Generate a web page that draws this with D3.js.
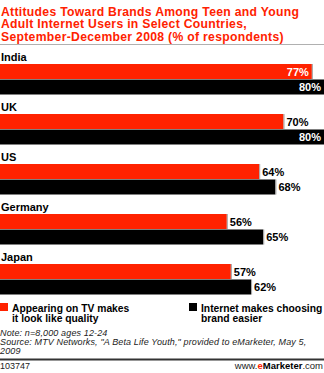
<!DOCTYPE html>
<html><head><meta charset="utf-8">
<script src="https://cdn.jsdelivr.net/npm/d3@7"></script>
<style>
body{margin:0;background:#fff;}
svg{display:block;}
</style></head>
<body><svg id="c" width="324" height="373"></svg>
<script>
const titleLines = ["Attitudes Toward Brands Among Teen and Young","Adult Internet Users in Select Countries,","September-December 2008 (% of respondents)"];
const countries = ["India","UK","US","Germany","Japan"];
const seriesNames = ["Appearing on TV makes it look like quality","Internet makes choosing brand easier"];
const tvQuality = [77,70,64,56,57];
const internetEasier = [80,80,68,65,62];
const noteLines = ["Note: n=8,000 ages 12-24","Source: MTV Networks, \"A Beta Life Youth,\" provided to eMarketer, May 5,","2009"];
const footerId = "103747";

const W=324;
const svg=d3.select("#c");
const font="'Liberation Sans', Arial, sans-serif";
const red="#ff2200", blk="#000";

// title
svg.append("g").selectAll("text").data(titleLines).join("text")
  .attr("x",1).attr("y",(d,i)=>15.5+i*12.5)
  .attr("font-family",font).attr("font-weight","bold").attr("font-size",12.2)
  .attr("letter-spacing",0.3)
  .attr("fill",red).text(d=>d);
svg.append("rect").attr("x",0).attr("y",44).attr("width",W).attr("height",1).attr("fill","#b0b0b0");

const x=d3.scaleLinear().domain([0,80]).range([0,324]);
const y=d3.scaleBand().domain(countries).range([46,296]);
const ys=d3.scaleBand().domain([0,1]).range([18,49]);
const series=[tvQuality,internetEasier];
const cols=[red,blk];

const g=svg.append("g");
const grp=g.selectAll("g").data(countries).join("g").attr("transform",d=>`translate(0,${y(d)})`);
grp.append("text").attr("x",1).attr("y",14.5).attr("font-family",font).attr("font-weight","bold")
  .attr("font-size",11).attr("fill","#000").text(d=>d);
[0,1].forEach(s=>{
  grp.append("rect").attr("x",0).attr("y",ys(s)).attr("height",ys.bandwidth()-0.5)
    .attr("width",(d,i)=>x(series[s][i])).attr("fill",cols[s]);
  grp.append("rect").attr("x",(d,i)=>x(series[s][i])).attr("y",ys(s)).attr("height",ys.bandwidth()-0.5)
    .attr("width",1).attr("fill","#a0a0a0");
  grp.append("text")
    .attr("x",(d,i)=>{const v=series[s][i]; return x(v)>300? x(v)-3 : x(v)+3;})
    .attr("text-anchor",(d,i)=>x(series[s][i])>300?"end":"start")
    .attr("y",ys(s)+ys.bandwidth()/2+4)
    .attr("font-family",font).attr("font-weight","bold").attr("font-size",11)
    .attr("fill",(d,i)=>x(series[s][i])>300?"#fff":"#000")
    .text((d,i)=>series[s][i]+"%");
});

// legend
const leg=[{x:0,lines:["Appearing on TV makes","it look like quality"],c:red},{x:189,lines:["Internet makes choosing","brand easier"],c:blk}];
leg.forEach(l=>{
  svg.append("rect").attr("x",l.x).attr("y",303).attr("width",8).attr("height",8).attr("fill",l.c);
  svg.append("g").selectAll("text").data(l.lines).join("text")
    .attr("x",l.x+12).attr("y",(d,i)=>311.5+i*10)
    .attr("font-family",font).attr("font-weight","bold").attr("font-size",10.3).attr("fill","#000").text(d=>d);
});

// notes
svg.append("g").selectAll("text").data(noteLines).join("text")
  .attr("x",0).attr("y",(d,i)=>336+i*9)
  .attr("font-family",font).attr("font-style","italic").attr("font-size",9).attr("letter-spacing",0.13)
  .attr("fill","#222").text(d=>d);
svg.append("rect").attr("x",0).attr("y",358.5).attr("width",W).attr("height",2).attr("fill","#333");
svg.append("text").attr("x",0).attr("y",369).attr("font-family",font).attr("font-size",9).attr("fill","#222").text(footerId);
const ft=svg.append("text").attr("x",323).attr("y",369).attr("text-anchor","end").attr("font-family",font).attr("font-size",9.5).attr("fill","#222");
ft.append("tspan").text("www.");
ft.append("tspan").attr("fill",red).attr("font-weight","bold").text("e");
ft.append("tspan").attr("font-weight","bold").attr("fill","#000").text("Marketer");
ft.append("tspan").text(".com");
</script></body></html>
